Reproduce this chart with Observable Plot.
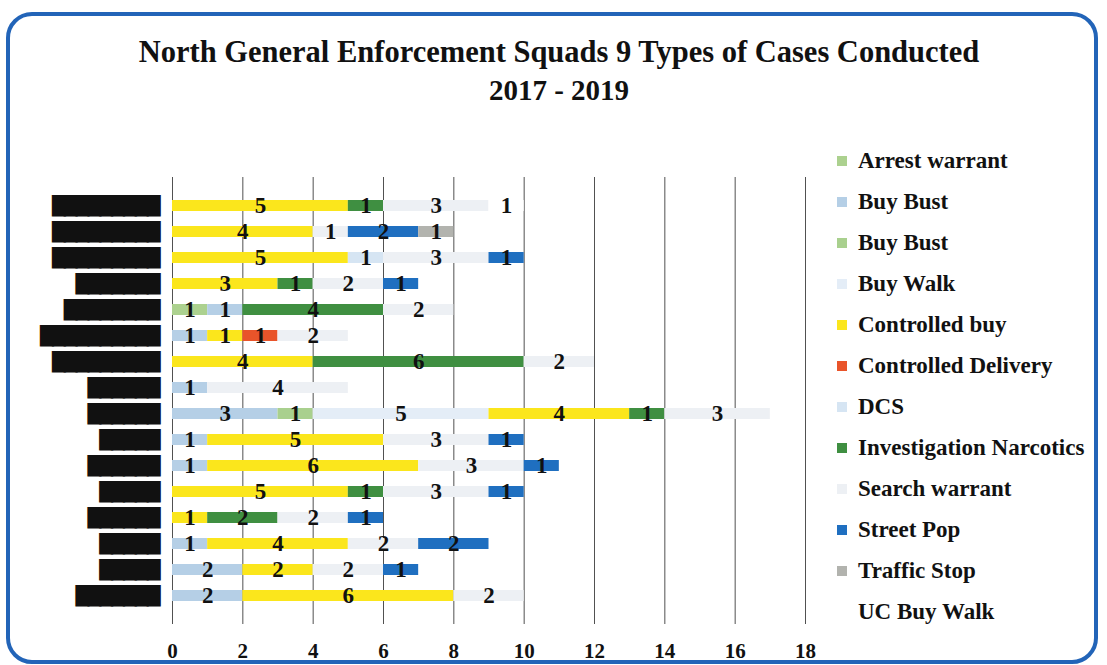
<!DOCTYPE html>
<html><head><meta charset="utf-8">
<script src="https://cdn.jsdelivr.net/npm/d3@7"></script>
<script src="https://cdn.jsdelivr.net/npm/@observablehq/plot@0.6"></script>
<style>
body{margin:0;background:#fff;}
#wrap{position:relative;width:1107px;height:665px;overflow:hidden;font-family:"Liberation Serif","Times New Roman",serif;}
#frame{position:absolute;left:6px;top:12px;width:1092px;height:652px;border:4px solid #2264b8;border-radius:26px;box-sizing:border-box;}
.title{position:absolute;left:0;width:1118px;text-align:center;font-weight:bold;color:#111;line-height:1;}
#t1{top:37px;font-size:30.5px;}
#t2{top:76px;font-size:29px;}
#legend{position:absolute;left:837px;top:140px;}
.li{display:flex;align-items:center;height:41px;font-size:23px;font-weight:bold;color:#111;}
.sw{width:10px;height:10px;margin-right:11px;flex:none;}
#chart{position:absolute;left:0;top:0;}
g[aria-label="y-axis tick label"] text{letter-spacing:-2px;}
</style></head>
<body>
<div id="wrap">
  <div id="frame"></div>
  <div class="title" id="t1">North General Enforcement Squads 9 Types of Cases Conducted</div>
  <div class="title" id="t2">2017 - 2019</div>
  <div id="chart"></div>
  <div id="legend"></div>
</div>
<script>
// Squad names are redacted in the source; labels reproduce the black redaction marks
const squads = ["Squad 1","Squad 2","Squad 3","Squad 4","Squad 5","Squad 6","Squad 7","Squad 8",
  "Squad 9","Squad 10","Squad 11","Squad 12","Squad 13","Squad 14","Squad 15","Squad 16"];
const squadLabels = ["█████████","█████████","█████████","███████","████████","██████████",
  "█████████","██████","██████","█████","██████","█████","██████","█████","█████","███████"];

const typeKeys = ["Arrest warrant","Buy Bust 1","Buy Bust 2","Buy Walk","Controlled buy","Controlled Delivery",
  "DCS","Investigation Narcotics","Search warrant","Street Pop","Traffic Stop","UC Buy Walk"];
const typeLabels = ["Arrest warrant","Buy Bust","Buy Bust","Buy Walk","Controlled buy","Controlled Delivery",
  "DCS","Investigation Narcotics","Search warrant","Street Pop","Traffic Stop","UC Buy Walk"];
const typeColors = ["#acd18f","#b5cfe6","#a9d08e","#e4edf7","#fbe61c","#e9542a",
  "#d6e5f3","#3f8f41","#edf0f4","#1f6fc0","#b2b3ae","#ffffff"];

// values per squad (rows top to bottom)
const arrestWarrant      = [0,0,0,0,1,0,0,0,0,0,0,0,0,0,0,0];
const buyBust1           = [0,0,0,0,1,1,0,1,3,1,1,0,0,1,2,2];
const buyBust2           = [0,0,0,0,0,0,0,0,1,0,0,0,0,0,0,0];
const buyWalk            = [0,0,0,0,0,0,0,0,5,0,0,0,0,0,0,0];
const controlledBuy      = [5,4,5,3,0,1,4,0,4,5,6,5,1,4,2,6];
const controlledDelivery = [0,0,0,0,0,1,0,0,0,0,0,0,0,0,0,0];
const dcs                = [0,0,1,0,0,0,0,0,0,0,0,0,0,0,0,0];
const investigation      = [1,0,0,1,4,0,6,0,1,0,0,1,2,0,0,0];
const searchWarrant      = [3,1,3,2,2,2,2,4,3,3,3,3,2,2,2,2];
const streetPop          = [0,2,1,1,0,0,0,0,0,1,1,1,1,2,1,0];
const trafficStop        = [0,1,0,0,0,0,0,0,0,0,0,0,0,0,0,0];
const ucBuyWalk          = [1,0,0,0,0,0,0,0,0,0,0,0,0,0,0,0];

const xTicks = [0,2,4,6,8,10,12,14,16,18];

const series = [arrestWarrant,buyBust1,buyBust2,buyWalk,controlledBuy,controlledDelivery,
  dcs,investigation,searchWarrant,streetPop,trafficStop,ucBuyWalk];
const data = [];
squads.forEach((s,i)=>{
  series.forEach((arr,j)=>{
    if (arr[i] > 0) data.push({squad:s, type:typeKeys[j], value:arr[i]});
  });
});

const serif = "Liberation Serif, Times New Roman, serif";
const chart = Plot.plot({
  width:1107, height:665,
  marginLeft:172, marginRight:302, marginTop:177, marginBottom:41,
  x:{domain:[0,18]},
  y:{domain:squads, padding:0.58},
  color:{domain:typeKeys, range:typeColors},
  style:{background:"transparent", overflow:"visible"},
  marks:[
    Plot.gridX(xTicks, {stroke:"#333", strokeOpacity:0.85, strokeWidth:1}),
    Plot.barX(data, {x:"value", y:"squad", fill:"type", z:"type", order:null}),
    Plot.text(data, Plot.stackX({x:"value", y:"squad", z:"type", order:null, text:"value",
      fontSize:23, fontWeight:"bold", fontFamily:serif, fill:"#111"})),
    Plot.axisX({ticks:xTicks, tickSize:0, tickPadding:19, fontSize:21, fontWeight:"bold",
      fontFamily:serif, fill:"#111", label:null}),
    Plot.axisY({tickSize:0, tickPadding:14, fontSize:18, fontFamily:"DejaVu Sans", fill:"#111",
      tickFormat: d => squadLabels[squads.indexOf(d)], label:null})
  ]
});
document.getElementById("chart").appendChild(chart);

const legend = document.getElementById("legend");
typeKeys.forEach((k,i)=>{
  const row = document.createElement("div"); row.className="li";
  const sw = document.createElement("span"); sw.className="sw"; sw.style.background=typeColors[i];
  const t = document.createElement("span"); t.textContent = typeLabels[i];
  row.appendChild(sw); row.appendChild(t); legend.appendChild(row);
});
</script>
</body></html>
